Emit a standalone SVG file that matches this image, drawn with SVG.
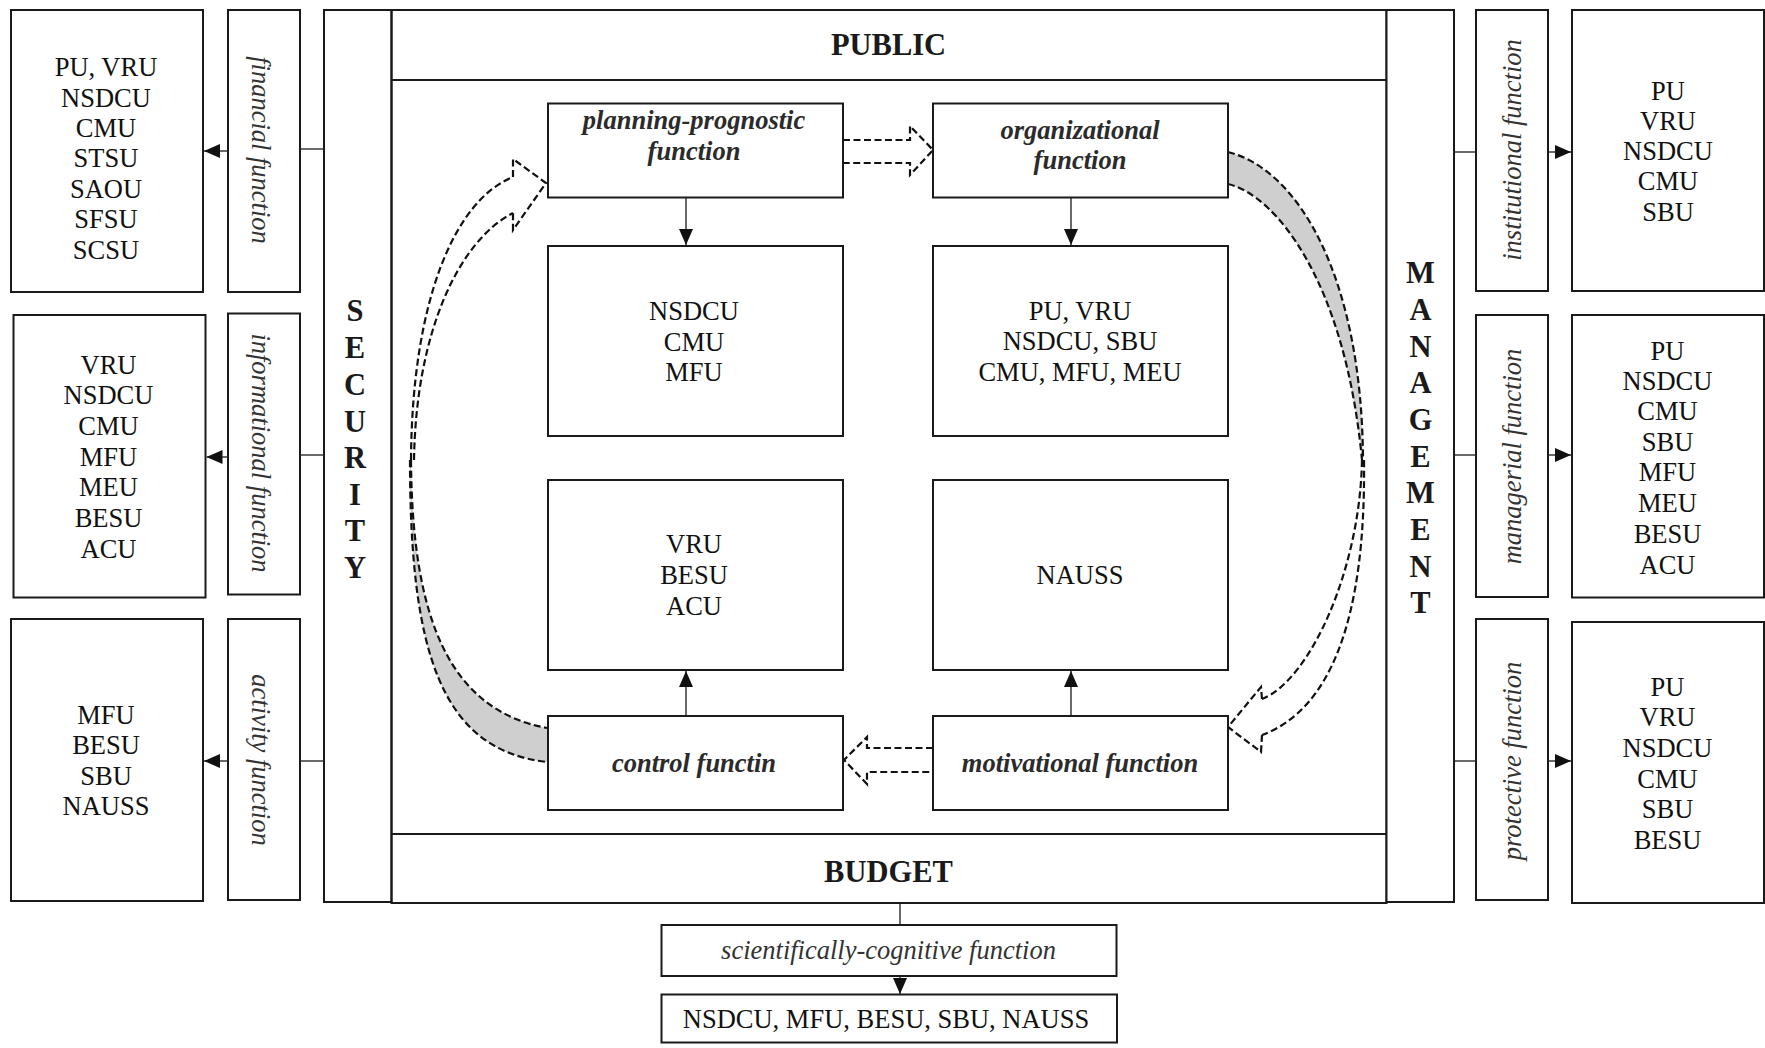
<svg xmlns="http://www.w3.org/2000/svg" width="1765" height="1048" viewBox="0 0 1765 1048">
<defs>
<style>
.box{fill:#fff;stroke:#1a1a1a;stroke-width:2}
.frame{fill:none;stroke:#1a1a1a;stroke-width:2}
.t{font-family:"Liberation Serif","Times New Roman",serif;font-size:26.5px;fill:#111;text-anchor:middle}
.it{font-style:italic;fill:#333}
.bi{font-style:italic;font-weight:bold;fill:#2b2b2b}
.b{font-weight:bold;font-size:30.5px;fill:#1a1a1a}
.ln{stroke:#1a1a1a;stroke-width:1.3;fill:none}
.dash{stroke:#111;stroke-width:2.2;stroke-dasharray:7 3.5;fill:none}
.gray{fill:#cfcfcf;stroke:none}
</style>
<marker id="ah" markerUnits="userSpaceOnUse" markerWidth="16" markerHeight="14" refX="16" refY="7" orient="auto">
<path d="M0,0 L16,7 L0,14 Z" fill="#111"/>
</marker>
</defs>
<rect width="1765" height="1048" fill="#fff"/>

<!-- frame structure -->
<g id="security">
<rect class="box" x="324" y="10" width="67.5" height="892"/>
<text class="t b"><tspan x="355" y="321">S</tspan><tspan x="355" y="358">E</tspan><tspan x="355" y="395">C</tspan><tspan x="355" y="432">U</tspan><tspan x="355" y="468">R</tspan><tspan x="355" y="505">I</tspan><tspan x="355" y="541">T</tspan><tspan x="355" y="578">Y</tspan></text>
</g>
<g id="center-frame">
<rect class="frame" x="391.5" y="10" width="995" height="893"/>
<line class="frame" x1="391.5" y1="80" x2="1386.5" y2="80"/>
<line class="frame" x1="391.5" y1="834" x2="1386.5" y2="834"/>
</g>
<g id="public"><text class="t b" x="888.5" y="55">PUBLIC</text></g>
<g id="budget"><text class="t b" x="888.5" y="882">BUDGET</text></g>
<g id="management">
<rect class="box" x="1386.5" y="10" width="67.5" height="892"/>
<text class="t b"><tspan x="1420.5" y="283">M</tspan><tspan x="1420.5" y="320">A</tspan><tspan x="1420.5" y="356.5">N</tspan><tspan x="1420.5" y="393">A</tspan><tspan x="1420.5" y="430">G</tspan><tspan x="1420.5" y="466.5">E</tspan><tspan x="1420.5" y="503">M</tspan><tspan x="1420.5" y="540">E</tspan><tspan x="1420.5" y="576.5">N</tspan><tspan x="1420.5" y="613">T</tspan></text>
</g>

<!-- connectors -->
<g id="connectors">
<line class="ln" x1="300" y1="149" x2="324" y2="149"/>
<line class="ln" x1="300" y1="455" x2="324" y2="455"/>
<line class="ln" x1="300" y1="761" x2="324" y2="761"/>
<line class="ln" x1="228" y1="151" x2="204" y2="151" marker-end="url(#ah)"/>
<line class="ln" x1="228" y1="457" x2="206.5" y2="457" marker-end="url(#ah)"/>
<line class="ln" x1="228" y1="761" x2="204" y2="761" marker-end="url(#ah)"/>
<line class="ln" x1="1454" y1="152" x2="1476" y2="152"/>
<line class="ln" x1="1454" y1="455" x2="1476" y2="455"/>
<line class="ln" x1="1454" y1="761" x2="1476" y2="761"/>
<line class="ln" x1="1548" y1="152" x2="1571" y2="152" marker-end="url(#ah)"/>
<line class="ln" x1="1548" y1="455" x2="1571" y2="455" marker-end="url(#ah)"/>
<line class="ln" x1="1548" y1="761" x2="1571" y2="761" marker-end="url(#ah)"/>
<line class="ln" x1="686" y1="197.5" x2="686" y2="245" marker-end="url(#ah)"/>
<line class="ln" x1="1071" y1="197.5" x2="1071" y2="245" marker-end="url(#ah)"/>
<line class="ln" x1="686" y1="716" x2="686" y2="671" marker-end="url(#ah)"/>
<line class="ln" x1="1071" y1="716" x2="1071" y2="671" marker-end="url(#ah)"/>
<line class="ln" x1="900" y1="903" x2="900" y2="925"/>
<line class="ln" x1="900" y1="976" x2="900" y2="994" marker-end="url(#ah)"/>
<!-- dashed block arrows -->
<path class="dash" d="M843,140 H910 V126 L933,150 L910,175 V163 H843"/>
<path class="dash" d="M933,748 H867 V737 L844,760 L867,784 V772 H933"/>
<!-- left ribbon arrow -->
<path class="gray" d="M411,460 C412,620 450,710 547,728 L547,762 C440,750 410,650 410,460 Z"/>
<path class="dash" d="M411,460 C412,620 450,710 547,728"/>
<path class="dash" d="M410,460 C410,650 440,750 547,762"/>
<path class="dash" d="M411,460 C412,300 455,200 513,177"/>
<path class="dash" d="M414,460 C416,330 460,240 513,213"/>
<path class="dash" d="M513,177 V159 L546,183 L513,230 V213"/>
<!-- right ribbon arrow -->
<path class="gray" d="M1228,152 C1300,170 1362,280 1363,460 L1362,460 C1345,280 1275,195 1228,184 Z"/>
<path class="dash" d="M1228,152 C1300,170 1362,280 1363,460"/>
<path class="dash" d="M1228,184 C1275,195 1345,280 1362,460"/>
<path class="dash" d="M1362,460 C1360,570 1310,680 1262,699"/>
<path class="dash" d="M1364,460 C1366,620 1330,710 1262,735"/>
<path class="dash" d="M1262,699 L1261,687 L1228,727 L1261,752 L1262,735"/>
</g>

<!-- left side -->
<g id="left-list-1">
<rect class="box" x="11" y="10" width="192" height="282"/>
<text class="t"><tspan x="106" y="76">PU, VRU</tspan><tspan x="106" y="106.5">NSDCU</tspan><tspan x="106" y="137">CMU</tspan><tspan x="106" y="167">STSU</tspan><tspan x="106" y="197.5">SAOU</tspan><tspan x="106" y="228">SFSU</tspan><tspan x="106" y="258.5">SCSU</tspan></text>
</g>
<g id="financial-function">
<rect class="box" x="228" y="10" width="72" height="282"/>
<text class="t it" transform="translate(252,150) rotate(90)">financial function</text>
</g>
<g id="left-list-2">
<rect class="box" x="13.5" y="315" width="192" height="282.5"/>
<text class="t"><tspan x="108.5" y="373.5">VRU</tspan><tspan x="108.5" y="404">NSDCU</tspan><tspan x="108.5" y="435">CMU</tspan><tspan x="108.5" y="465.5">MFU</tspan><tspan x="108.5" y="496">MEU</tspan><tspan x="108.5" y="526.5">BESU</tspan><tspan x="108.5" y="557.5">ACU</tspan></text>
</g>
<g id="informational-function">
<rect class="box" x="228" y="313.5" width="72" height="281"/>
<text class="t it" transform="translate(252,453) rotate(90)">informational function</text>
</g>
<g id="left-list-3">
<rect class="box" x="11" y="619" width="192" height="282"/>
<text class="t"><tspan x="106" y="723.5">MFU</tspan><tspan x="106" y="753.5">BESU</tspan><tspan x="106" y="784.5">SBU</tspan><tspan x="106" y="815">NAUSS</tspan></text>
</g>
<g id="activity-function">
<rect class="box" x="228" y="619" width="72" height="281"/>
<text class="t it" transform="translate(252,760) rotate(90)">activity function</text>
</g>

<!-- right side -->
<g id="institutional-function">
<rect class="box" x="1476" y="10" width="72" height="281"/>
<text class="t it" transform="translate(1521,150) rotate(-90)">institutional function</text>
</g>
<g id="right-list-1">
<rect class="box" x="1572" y="10" width="192" height="281"/>
<text class="t"><tspan x="1668" y="99.5">PU</tspan><tspan x="1668" y="129.5">VRU</tspan><tspan x="1668" y="159.5">NSDCU</tspan><tspan x="1668" y="190">CMU</tspan><tspan x="1668" y="220.5">SBU</tspan></text>
</g>
<g id="managerial-function">
<rect class="box" x="1476" y="315" width="72" height="282"/>
<text class="t it" transform="translate(1521,456.5) rotate(-90)">managerial function</text>
</g>
<g id="right-list-2">
<rect class="box" x="1572" y="315" width="192" height="282.5"/>
<text class="t"><tspan x="1667.5" y="359.5">PU</tspan><tspan x="1667.5" y="390">NSDCU</tspan><tspan x="1667.5" y="420">CMU</tspan><tspan x="1667.5" y="450.5">SBU</tspan><tspan x="1667.5" y="481">MFU</tspan><tspan x="1667.5" y="511.5">MEU</tspan><tspan x="1667.5" y="542.5">BESU</tspan><tspan x="1667.5" y="573.5">ACU</tspan></text>
</g>
<g id="protective-function">
<rect class="box" x="1476" y="619" width="72" height="281"/>
<text class="t it" transform="translate(1521,761) rotate(-90)">protective function</text>
</g>
<g id="right-list-3">
<rect class="box" x="1572" y="622" width="192" height="281"/>
<text class="t"><tspan x="1667.5" y="696">PU</tspan><tspan x="1667.5" y="726">VRU</tspan><tspan x="1667.5" y="757">NSDCU</tspan><tspan x="1667.5" y="787.5">CMU</tspan><tspan x="1667.5" y="818">SBU</tspan><tspan x="1667.5" y="848.5">BESU</tspan></text>
</g>

<!-- center nodes -->
<g id="planning-prognostic">
<rect class="box" x="548" y="103.5" width="295" height="94"/>
<text class="t bi"><tspan x="694" y="128.5">planning-prognostic</tspan><tspan x="694" y="160">function</tspan></text>
</g>
<g id="organizational">
<rect class="box" x="933" y="103.5" width="295" height="94"/>
<text class="t bi"><tspan x="1080" y="138.5">organizational</tspan><tspan x="1080" y="168.5">function</tspan></text>
</g>
<g id="units-planning">
<rect class="box" x="548" y="246" width="295" height="190"/>
<text class="t"><tspan x="694" y="320">NSDCU</tspan><tspan x="694" y="350.5">CMU</tspan><tspan x="694" y="381">MFU</tspan></text>
</g>
<g id="units-organizational">
<rect class="box" x="933" y="246" width="295" height="190"/>
<text class="t"><tspan x="1080" y="320">PU, VRU</tspan><tspan x="1080" y="350">NSDCU, SBU</tspan><tspan x="1080" y="380.5">CMU, MFU, MEU</tspan></text>
</g>
<g id="units-control">
<rect class="box" x="548" y="480" width="295" height="190"/>
<text class="t"><tspan x="694" y="553">VRU</tspan><tspan x="694" y="584">BESU</tspan><tspan x="694" y="615">ACU</tspan></text>
</g>
<g id="units-motivational">
<rect class="box" x="933" y="480" width="295" height="190"/>
<text class="t" x="1080" y="584">NAUSS</text>
</g>
<g id="control">
<rect class="box" x="548" y="716" width="295" height="94"/>
<text class="t bi" x="694" y="772">control functin</text>
</g>
<g id="motivational">
<rect class="box" x="933" y="716" width="295" height="94"/>
<text class="t bi" x="1080" y="772">motivational function</text>
</g>

<!-- bottom -->
<g id="scientific-function">
<rect class="box" x="661.5" y="925" width="455" height="51"/>
<text class="t it" x="888.5" y="958.5">scientifically-cognitive function</text>
</g>
<g id="units-scientific">
<rect class="box" x="661.5" y="994.5" width="455.5" height="48"/>
<text class="t" x="886" y="1028">NSDCU, MFU, BESU, SBU, NAUSS</text>
</g>
</svg>
